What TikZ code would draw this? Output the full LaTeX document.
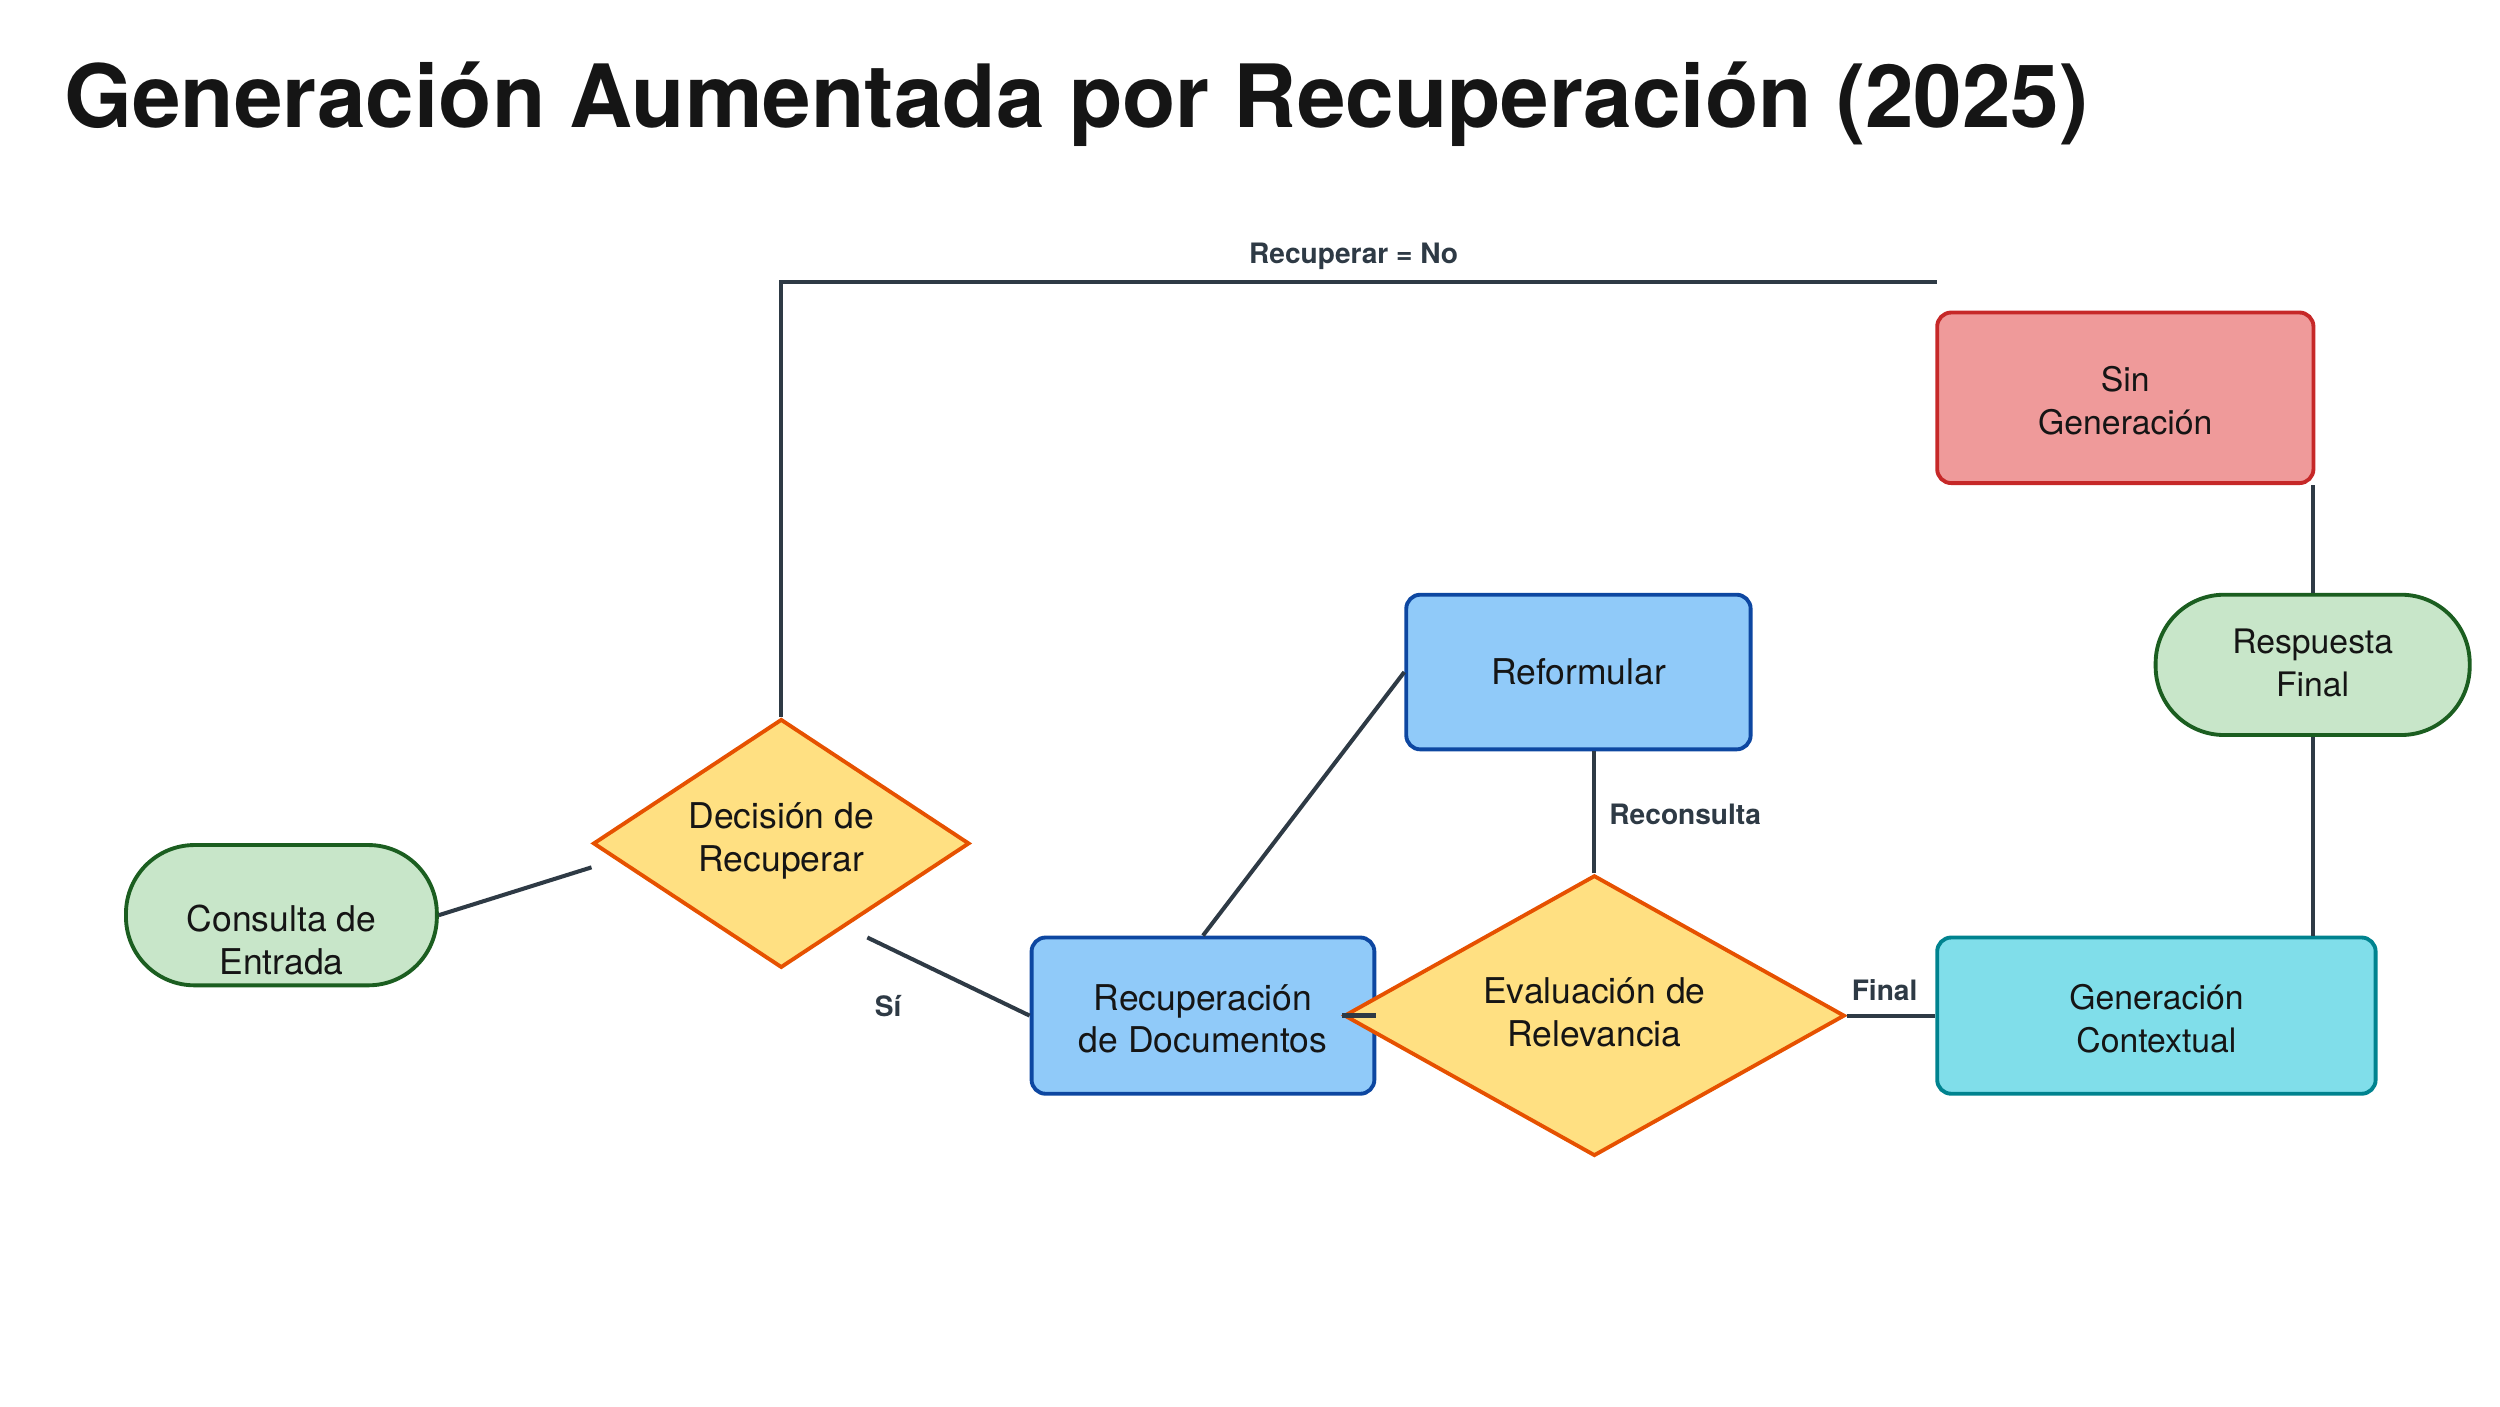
\documentclass[tikz,border=0pt]{standalone}
\usepackage{fontspec}
\setmainfont{TeX Gyre Heros}
\usetikzlibrary{shapes.geometric}
\newlength\pxu
\setlength\pxu{0.015944cm}
\definecolor{linec}{HTML}{2E3A45}
\definecolor{txtc}{HTML}{151515}
\definecolor{greenf}{HTML}{C8E6C9}\definecolor{greend}{HTML}{1B5E20}
\definecolor{yelf}{HTML}{FFE082}\definecolor{orad}{HTML}{E65100}
\definecolor{bluef}{HTML}{90CAF9}\definecolor{blued}{HTML}{0D47A1}
\definecolor{cyanf}{HTML}{80DEEA}\definecolor{cyand}{HTML}{00838F}
\definecolor{redf}{HTML}{EF9A9A}\definecolor{redd}{HTML}{C62828}
\tikzset{
  base/.style={line width=1.1pt, text=txtc, align=center, inner sep=0pt,
    font=\fontsize{10.1}{12.2}\selectfont},
  stadium/.style={base, draw=greend, fill=greenf, rounded corners=43\pxu,
    minimum width=195\pxu, minimum height=88\pxu},
  decision/.style={base, diamond, draw=orad, fill=yelf},
  procbox/.style={base, draw=blued, fill=bluef, rounded corners=4pt},
  link/.style={draw=linec, line width=1.15pt},
  lbl/.style={text=linec, font=\fontsize{8}{9.6}\selectfont\bfseries, inner sep=0pt},
}
\begin{document}
\begin{tikzpicture}[x=\pxu, y=-\pxu]
\useasboundingbox (0,0) rectangle (1568,882);

\node[anchor=base west, inner sep=0pt, text=txtc, font=\fontsize{24.85}{28}\selectfont\bfseries] (title) at (40,80) {Generación Aumentada por Recuperación (2025)};

% nodes
\node[stadium] (c1) at (176.5,574) {};
\node[base] (c1t) at (176.5,589.5) {Consulta de\\Entrada};
\node[decision, minimum width=236\pxu, minimum height=156\pxu] (d1) at (490,529) {};
\node[base] (d1t) at (490,527.5) {Decisión de\\Recuperar};
\node[procbox, minimum width=215\pxu, minimum height=98\pxu] (r1) at (754.5,637) {};
\node[base] (r1t) at (754.5,639) {Recuperación\\de Documentos};
\node[procbox, minimum width=216\pxu, minimum height=97\pxu] (f1) at (990,421.5) {Reformular};
\node[decision, minimum width=314\pxu, minimum height=176\pxu] (e1) at (1000,637) {};
\node[base] (e1t) at (1000,635) {Evaluación de\\Relevancia};
\node[base, draw=cyand, fill=cyanf, rounded corners=4pt, minimum width=275\pxu, minimum height=98\pxu] (g1) at (1352.5,637) {};
\node[base, font=\fontsize{9.6}{12.2}\selectfont] (g1t) at (1352.5,639) {Generación\\Contextual};
\node[base, draw=redd, fill=redf, rounded corners=4pt, minimum width=236\pxu, minimum height=107\pxu] (s1) at (1333,249.5) {};
\node[base, font=\fontsize{9.6}{12.2}\selectfont] (s1t) at (1333,251.5) {Sin\\Generación};
\node[stadium, minimum width=197\pxu] (p1) at (1450.5,417) {};
\node[base, font=\fontsize{9.6}{12.2}\selectfont] (p1t) at (1450.5,416) {Respuesta\\Final};

% free ends
\coordinate (ca) at (371,544);
\coordinate (cb) at (544,588);
\coordinate (cn) at (1215,177);

% connectors
\draw[link] (c1.east) -- (ca);
\draw[link] (cb) -- (r1.west);
\draw[link] (d1.north) |- (cn);
\draw[link] (r1.north) -- (f1.west);
\draw[link] (e1.north) -- (e1.north |- f1.south);
\draw[link, line width=1.6pt] (e1.west) -- (r1.east);
\draw[link] (e1.east) -- (g1.west);
\draw[link] (p1.north) -- (p1.north |- s1.south);
\draw[link] (p1.south) -- (p1.south |- g1.north);

% labels
\node[lbl] (l1) at (849,161) {Recuperar = No};
\node[lbl] (l2) at (557,631) {Sí};
\node[lbl] (l3) at (1057,511) {Reconsulta};
\node[lbl] (l4) at (1182,621) {Final};
\end{tikzpicture}
\end{document}
